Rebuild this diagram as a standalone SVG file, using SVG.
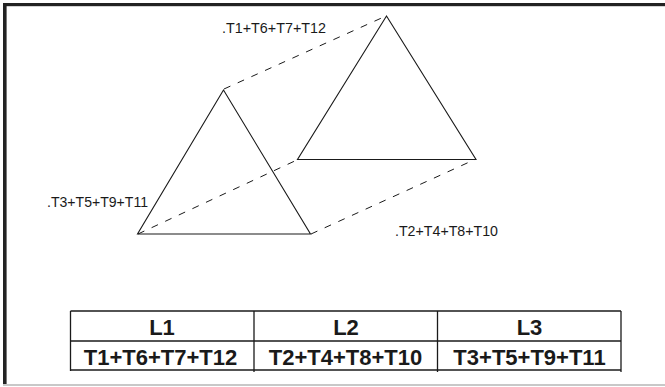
<svg xmlns="http://www.w3.org/2000/svg" width="665" height="387" viewBox="0 0 665 387">
<style>
.tri{fill:none;stroke:#1a1a1a;stroke-width:1.1;stroke-linejoin:miter}
.dash{fill:none;stroke:#1a1a1a;stroke-width:1;stroke-dasharray:7 8}
.lbl{font-family:"Liberation Sans",Arial,sans-serif;font-size:15.5px;fill:#1a1a1a}
.tl{stroke:#1a1a1a;stroke-width:1.3;fill:none}
.tt{font-family:"Liberation Sans",Arial,sans-serif;font-size:22px;font-weight:bold;fill:#1a1a1a;text-anchor:middle}
</style>
<rect width="665" height="387" fill="#ffffff"/>
<g id="frame">
<rect x="3" y="3" width="662" height="3.2" fill="#232323"/>
<rect x="3" y="3" width="3.6" height="382" fill="#232323"/>
<rect x="3" y="384" width="662" height="2" fill="#c8c8c8"/>
</g>
<g id="connectors">
<line class="dash" x1="224" y1="89" x2="386" y2="16"/>
<line class="dash" x1="138" y1="234" x2="298" y2="159.5"/>
<line class="dash" x1="311" y1="234" x2="476" y2="159"/>
</g>
<g id="triangle-left">
<polygon class="tri" points="223.5,90 137.5,234 310.5,234"/>
</g>
<g id="triangle-right">
<polygon class="tri" points="386.5,16 297.5,159.5 476,159.5"/>
</g>
<g id="label-top"><text class="lbl" x="222" y="33" textLength="104" lengthAdjust="spacingAndGlyphs">.T1+T6+T7+T12</text></g>
<g id="label-left"><text class="lbl" x="47" y="207" textLength="101" lengthAdjust="spacingAndGlyphs">.T3+T5+T9+T11</text></g>
<g id="label-right"><text class="lbl" x="395" y="236" textLength="103" lengthAdjust="spacingAndGlyphs">.T2+T4+T8+T10</text></g>
<g id="table">
<line class="tl" x1="70.5" y1="311" x2="621" y2="311"/>
<line class="tl" x1="70.5" y1="341" x2="621" y2="341"/>
<line class="tl" x1="70.5" y1="370" x2="621" y2="370"/>
<line class="tl" x1="70.5" y1="311" x2="70.5" y2="371"/>
<line class="tl" x1="254" y1="311" x2="254" y2="372"/>
<line class="tl" x1="437.5" y1="311" x2="437.5" y2="372"/>
<line class="tl" x1="621" y1="311" x2="621" y2="372"/>
<text class="tt" x="162" y="335">L1</text>
<text class="tt" x="346" y="335">L2</text>
<text class="tt" x="529.5" y="335">L3</text>
<text class="tt" x="160.5" y="365">T1+T6+T7+T12</text>
<text class="tt" x="345.5" y="365">T2+T4+T8+T10</text>
<text class="tt" x="529.5" y="365">T3+T5+T9+T11</text>
</g>
</svg>
